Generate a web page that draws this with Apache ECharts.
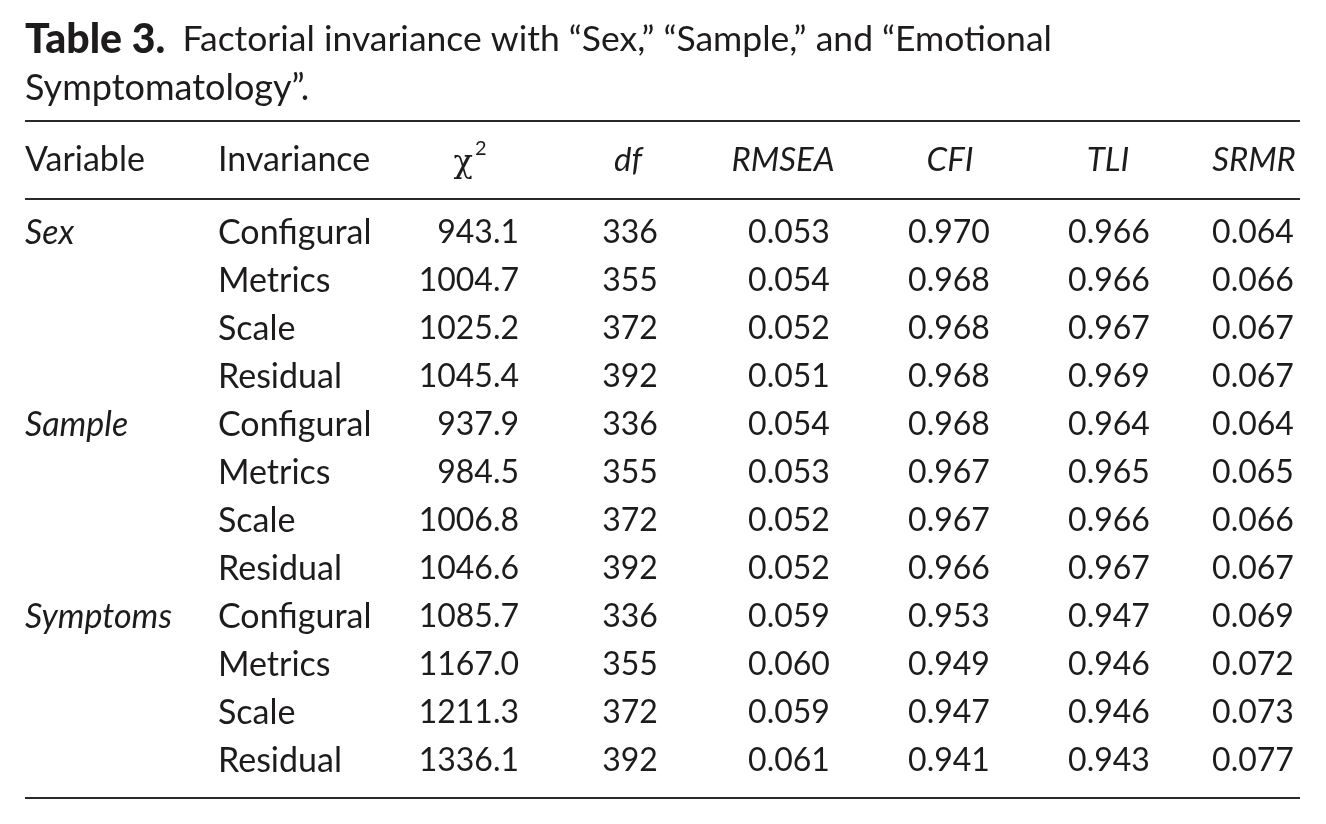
<!DOCTYPE html>
<html>
<head>
<meta charset="utf-8">
<script src="https://cdn.jsdelivr.net/npm/echarts@6/dist/echarts.min.js"></script>
<style>
  html, body { margin: 0; padding: 0; background: #fff; }
  #chart-box { width: 1326px; height: 824px; }
</style>
</head>
<body>
<div id="chart-box"></div>
<script>
// table values
const variables = ['Sex', 'Sample', 'Symptoms']
const invariance = ['Configural', 'Metrics', 'Scale', 'Residual']
const chi2 = [943.1, 1004.7, 1025.2, 1045.4, 937.9, 984.5, 1006.8, 1046.6, 1085.7, 1167.0, 1211.3, 1336.1]
const df = [336, 355, 372, 392, 336, 355, 372, 392, 336, 355, 372, 392]
const rmsea = [0.053, 0.054, 0.052, 0.051, 0.054, 0.053, 0.052, 0.052, 0.059, 0.060, 0.059, 0.061]
const cfi = [0.970, 0.968, 0.968, 0.968, 0.968, 0.967, 0.967, 0.966, 0.953, 0.949, 0.947, 0.941]
const tli = [0.966, 0.966, 0.967, 0.969, 0.964, 0.965, 0.966, 0.967, 0.947, 0.946, 0.946, 0.943]
const srmr = [0.064, 0.066, 0.067, 0.067, 0.064, 0.065, 0.066, 0.067, 0.069, 0.072, 0.073, 0.077]
const headers = ['Variable', 'Invariance', 'χ2', 'df', 'RMSEA', 'CFI', 'TLI', 'SRMR']

// layout
const FONT = 'Lato'
const INK = '#1e1b1c'
const colAnchor = [25, 218, 519, 630, 789, 949, 1109, 1253]
const colAlign = ['left', 'left', 'right', 'center', 'center', 'center', 'center', 'center']
const colSize = [34, 34, 32, 32, 32, 32, 32, 32]
const headX = [25, 218, 470, 628, 783, 950, 1108, 1254]
const headAlign = ['left', 'left', 'center', 'center', 'center', 'center', 'center', 'center']

const rowIds = chi2.map((v, i) => 'r' + i)
const cells = chi2.map((v, i) => [
    i % 4 === 0 ? variables[i / 4] : '',
    invariance[i % 4],
    v.toFixed(1),
    String(df[i]),
    rmsea[i].toFixed(3),
    cfi[i].toFixed(3),
    tli[i].toFixed(3),
    srmr[i].toFixed(3)
])
const cellData = []
cells.forEach((row, r) => row.forEach((t, c) => { if (t) cellData.push([c, r, t]) }))

const rule = y => ({
    type: 'line',
    shape: {x1: 25, y1: y, x2: 1300, y2: y},
    style: {stroke: '#2a2a2a', lineWidth: 2}
})

const headerText = headers.map((h, c) => {
    if (h === 'χ2') {
        return {
            type: 'text', x: headX[c], y: 160,
            style: {
                text: '{a|χ}{s|2}', align: 'center', verticalAlign: 'middle',
                rich: {
                    a: {fontFamily: 'DejaVu Serif', fontSize: 32, fill: INK, padding: [8, 0, 0, 0]},
                    s: {fontFamily: FONT, fontSize: 20, fill: INK, padding: [0, 0, 22, 2]}
                }
            }
        }
    }
    return {
        type: 'text', x: headX[c], y: 160,
        style: {
            text: h, fontFamily: FONT, fontSize: c < 2 ? 34 : 33, fill: INK,
            fontStyle: c >= 3 ? 'italic' : 'normal',
            align: headAlign[c], verticalAlign: 'middle'
        }
    }
})

const chart = echarts.init(document.getElementById('chart-box'))
chart.setOption({
    backgroundColor: '#fff',
    animation: false,
    grid: {left: 0, right: 0, top: 209, bottom: 39},
    xAxis: {type: 'value', min: 0, max: 1326, show: false},
    yAxis: {type: 'category', data: rowIds, inverse: true, show: false},
    graphic: [
        {
            type: 'text', x: 25, y: 40,
            style: {
                text: '{b|Table 3.}{n| Factorial invariance with “Sex,” “Sample,” and “Emotional}',
                verticalAlign: 'middle',
                rich: {
                    b: {fontFamily: FONT, fontSize: 41, fontWeight: 900, fill: INK, padding: [0, 8, 0, 0]},
                    n: {fontFamily: FONT, fontSize: 35.5, fill: INK}
                }
            }
        },
        {
            type: 'text', x: 25, y: 88,
            style: {text: 'Symptomatology”.', fontFamily: FONT, fontSize: 36, fill: INK, verticalAlign: 'middle'}
        },
        rule(121),
        rule(199),
        rule(798)
    ].concat(headerText),
    series: [{
        type: 'custom',
        coordinateSystem: 'cartesian2d',
        data: cellData.map(d => [d[0], d[1]]),
        renderItem: function (params, api) {
            const c = api.value(0)
            const r = api.value(1)
            const pt = api.coord([colAnchor[c], r])
            return {
                type: 'text', x: pt[0], y: pt[1],
                style: {
                    text: cellData[params.dataIndex][2],
                    fontFamily: FONT, fontSize: colSize[c], fill: INK,
                    fontStyle: c === 0 ? 'italic' : 'normal',
                    align: colAlign[c], verticalAlign: 'middle'
                }
            }
        }
    }]
})
</script>
</body>
</html>
